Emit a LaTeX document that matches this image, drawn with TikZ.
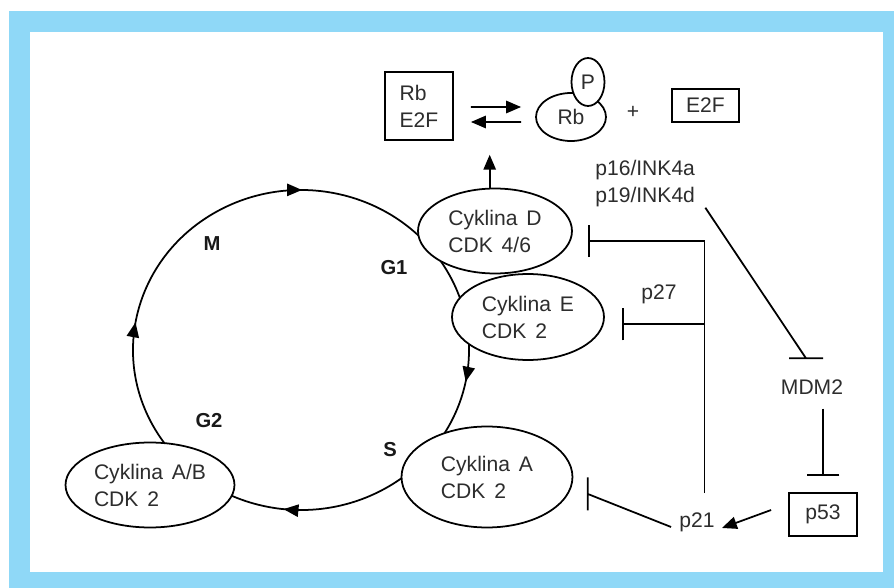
\documentclass[tikz,border=0pt]{standalone}
\usepackage{fontspec}
\setmainfont{Liberation Sans}
\usetikzlibrary{shapes.geometric,arrows.meta,decorations.markings}
\definecolor{framebl}{RGB}{143,216,247}
\definecolor{txtgray}{RGB}{45,45,45}

\begin{document}
\begin{tikzpicture}[x=0.02cm,y=-0.02cm,
  txt/.style={font=\fontsize{12}{15.4}\selectfont, execute at begin node={\spaceskip=0.42em\relax}, text=txtgray, align=left, inner sep=0pt},
  cyc/.style={txt, ellipse, draw, line width=1pt, fill=white},
  box/.style={txt, rectangle, draw, line width=1pt, fill=white},
  phase/.style={font=\fontsize{11.5}{14}\selectfont\bfseries, text=black!90, inner sep=0pt},
  tip/.style={-{Triangle[length=8.5pt,width=7pt]}},
  arr/.style={line width=1pt, tip},
  inh/.style={line width=1pt, -{Bar[width=18.5pt]}}]
  \useasboundingbox (0,0) rectangle (894,588);
  \fill[framebl] (9,11) rectangle (894,588);
  \fill[white] (30,32) rectangle (883,572);

  \coordinate (C) at (301,350);
  \draw[line width=1pt, postaction={decorate}, decoration={markings,
      mark=at position 0.086 with {\arrow{Triangle[length=8.5pt,width=7pt]}},
      mark=at position 0.366 with {\arrow{Triangle[length=8.5pt,width=7pt]}},
      mark=at position 0.602 with {\arrow{Triangle[length=8.5pt,width=7pt]}},
      mark=at position 0.862 with {\arrow{Triangle[length=8.5pt,width=7pt]}}}]
    (C) ++(-120:168 and 160) arc[start angle=-120, end angle=240, x radius=168, y radius=160];

  \node[phase] (lM) at (212,244) {M};
  \node[phase] (lG1) at (394,268) {G1};
  \node[phase] (lG2) at (209,421) {G2};
  \node[phase] (lS) at (390,450) {S};

  \node[cyc, minimum width=3.08cm, minimum height=1.7cm] (cycD) at (495,231) {Cyklina D\\CDK 4/6};
  \node[cyc, minimum width=3.04cm, minimum height=1.72cm] (cycE) at (528,317) {Cyklina E\\CDK 2};
  \node[cyc, minimum width=3.42cm, minimum height=2.02cm] (cycA) at (487,477) {Cyklina A\\CDK 2};
  \node[cyc, minimum width=3.38cm, minimum height=1.7cm] (cycAB) at (150,485) {Cyklina A/B\\CDK 2};

  \node[box, minimum width=1.36cm, minimum height=1.36cm] (rbe2f) at (419,106) {Rb\\E2F};
  \node[cyc, minimum width=1.4cm, minimum height=0.96cm] (rb) at (571,117) {Rb};
  \node[cyc, minimum width=0.66cm, minimum height=0.96cm] (pP) at (588,82) {P};
  \node[txt] (plus) at (633,112) {+};
  \node[box, minimum width=1.34cm, minimum height=0.66cm] (e2f) at (705.5,105.5) {E2F};

  \node[txt, anchor=west] (p16) at (595,184) {p16/INK4a\\p19/INK4d};
  \node[txt] (p27) at (659,294) {p27};
  \node[txt] (mdm2) at (812,387) {MDM2};
  \node[box, minimum width=1.36cm, minimum height=0.86cm] (p53) at (823,514.5) {p53};
  \node[txt] (p21) at (697,522) {p21};

  \draw[arr] ([xshift=0.34cm,yshift=-0.02cm]rbe2f.east) -- ([xshift=-0.28cm,yshift=0.2cm]rb.west);
  \draw[arr] ([xshift=-0.28cm,yshift=-0.1cm]rb.west) -- ([xshift=0.34cm,yshift=-0.32cm]rbe2f.east);
  \draw[arr] (cycD.97) -- ++(0,-33);

  \draw[inh, shorten >=0.3cm] ([xshift=0.15cm,yshift=0.38cm]p21.north) |- ([yshift=-0.2cm]cycD.east);
  \coordinate (jn) at (705,324);
  \draw[inh, line width=1.5pt, shorten >=0.34cm] (jn) -- (jn -| cycE.east);
  \draw[line width=1pt] ([xshift=0.2cm]p16.south east) -- ([xshift=-0.12cm,yshift=0.42cm]mdm2.north) coordinate (tM)
    ++(-17,0) -- ++(34,0);
  \draw[inh, shorten <=0.28cm, shorten >=0.32cm] (p53.north |- mdm2.south) -- (p53.north);
  \draw[arr] ([xshift=-0.34cm,yshift=0.09cm]p53.west) -- ([xshift=0.14cm,yshift=-0.12cm]p21.east);
  \draw[line width=1pt] ([xshift=-0.16cm,yshift=-0.1cm]p21.west) -- ([xshift=0.29cm,yshift=-0.34cm]cycA.east) coordinate (tA)
    ++(0,-16.5) -- ++(0,33);
\end{tikzpicture}
\end{document}
